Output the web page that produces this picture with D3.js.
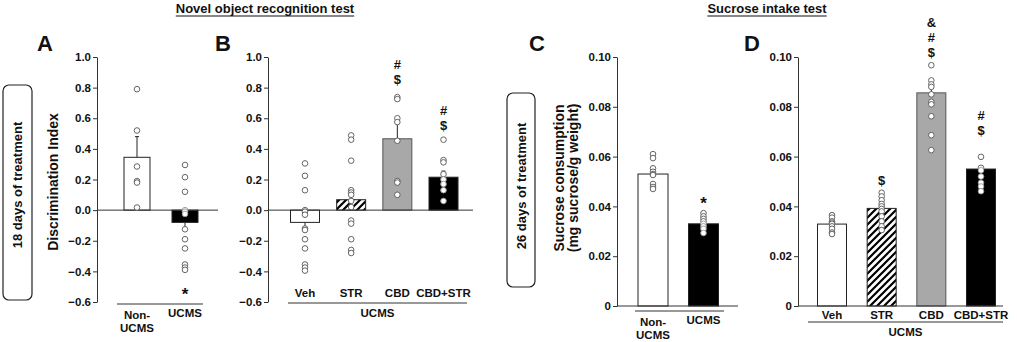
<!DOCTYPE html>
<html>
<head>
<meta charset="utf-8">
<script src="https://cdn.jsdelivr.net/npm/d3@7"></script>
<style>
  body { margin: 0; background: #fff; }
  text { font-family: "Liberation Sans", Arial, sans-serif; font-weight: bold; fill: #111; }
</style>
</head>
<body>
<div id="chart-area"></div>
<script>
let width = 1017,
height = 342;

// ---- data ----
// A: novel object recognition, 18 days
let groupsA = ['Non-UCMS', 'UCMS']
let meansA = [0.345, -0.08]
let semA = [0.135, 0.04]
let pointsA = [
  [0.79, 0.52, 0.285, 0.19, 0.18, 0.017],
  [0.295, 0.215, 0.12, 0.0, -0.01, -0.025, -0.125, -0.19, -0.25, -0.355, -0.375, -0.39]
]
let marksA = [[], ['*']]
let marksAy = [null, -0.52]

// B: novel object recognition, UCMS treatments
let groupsB = ['Veh', 'STR', 'CBD', 'CBD+STR']
let meansB = [-0.08, 0.068, 0.466, 0.215]
let semB = [0.055, 0.065, 0.105, 0.04]
let pointsB = [
  [0.305, 0.224, 0.13, 0.0, -0.01, -0.03, -0.12, -0.13, -0.19, -0.25, -0.355, -0.375, -0.395],
  [0.488, 0.46, 0.323, 0.13, 0.115, 0.1, 0.06, 0.02, -0.068, -0.088, -0.19, -0.26, -0.28],
  [0.738, 0.725, 0.6, 0.575, 0.453, 0.19, 0.18, 0.1],
  [0.46, 0.327, 0.312, 0.235, 0.2, 0.17, 0.13, 0.06]
]
let marksB = [[], [], ['$', '#'], ['$', '#']]
let marksBy = [null, null, 0.856, 0.556]

// C: sucrose intake, 26 days
let groupsC = ['Non-UCMS', 'UCMS']
let meansC = [0.053, 0.033]
let semC = [0.0015, 0.001]
let pointsC = [
  [0.061, 0.0594, 0.0553, 0.0539, 0.053, 0.0526, 0.049, 0.0478, 0.047],
  [0.0373, 0.036, 0.035, 0.034, 0.033, 0.032, 0.031, 0.0293]
]
let marksC = [[], ['*']]
let marksCy = [null, 0.043]

// D: sucrose intake, UCMS treatments
let groupsD = ['Veh', 'STR', 'CBD', 'CBD+STR']
let meansD = [0.0329, 0.0392, 0.0856, 0.055]
let semD = [0.0008, 0.0012, 0.003, 0.0012]
let pointsD = [
  [0.0365, 0.0355, 0.034, 0.0335, 0.033, 0.032, 0.031, 0.0295, 0.0289],
  [0.0455, 0.044, 0.0425, 0.041, 0.04, 0.039, 0.038, 0.036, 0.034, 0.032, 0.0305],
  [0.0967, 0.0906, 0.089, 0.088, 0.085, 0.082, 0.081, 0.0762, 0.0686, 0.0626],
  [0.0599, 0.0555, 0.0545, 0.052, 0.0495, 0.048, 0.0461]
]
let marksD = [[], ['$'], ['$', '#', '&'], ['$', '#']]
let marksDy = [null, 0.0506, 0.102, 0.0705]

let ticksAB = [-0.6, -0.4, -0.2, 0.0, 0.2, 0.4, 0.6, 0.8, 1.0]
let ticksCD = [0, 0.02, 0.04, 0.06, 0.08, 0.10]

let fills = {
  'Non-UCMS': '#fff', 'Veh': '#fff', 'UCMS': '#000',
  'STR': 'url(#hatch)', 'CBD': '#a8a8a8', 'CBD+STR': '#000'
}

let svg = d3.select('#chart-area').append('svg')
  .attr('width', width)
  .attr('height', height)

// diagonal hatch for STR
let pat = svg.append('defs').append('pattern')
  .attr('id', 'hatch')
  .attr('patternUnits', 'userSpaceOnUse')
  .attr('width', 7).attr('height', 7)
pat.append('rect').attr('width', 7).attr('height', 7).attr('fill', '#fff')
pat.append('path')
  .attr('d', 'M-1,1 l2,-2 M0,7 l7,-7 M6,8 l2,-2')
  .attr('stroke', '#000').attr('stroke-width', 2.2)

function drawPanel(o) {
  let g = svg.append('g')
  let y = d3.scaleLinear().domain(o.domain).range(o.yRange)
  let x = d3.scalePoint().domain(o.groups).range(o.xRange)
  let base = y(o.baseVal)

  // y axis
  let axis = d3.axisLeft(y).tickValues(o.ticks).tickSize(4).tickSizeOuter(0)
    .tickFormat(o.fmt)
  let ax = g.append('g').attr('transform', 'translate(' + o.axisX + ',0)').call(axis)
  ax.select('.domain').attr('stroke', '#333')
  ax.selectAll('.tick line').attr('stroke', '#333')
  ax.selectAll('.tick text').attr('font-size', 11.5).attr('fill', '#111')
    .attr('font-family', '"Liberation Sans", Arial, sans-serif').attr('x', -6)

  // bars
  g.selectAll('.bar').data(o.groups).enter().append('rect')
    .attr('x', d => x(d) - o.barW / 2)
    .attr('width', o.barW)
    .attr('y', (d, i) => Math.min(y(o.means[i]), base))
    .attr('height', (d, i) => Math.abs(y(o.means[i]) - base))
    .attr('fill', d => fills[d])
    .attr('stroke', d => d === 'CBD' ? '#555' : '#222')
    .attr('stroke-width', 1)

  // error bars (one sided, away from baseline)
  o.groups.forEach((d, i) => {
    let m = o.means[i]
    let e = m >= 0 ? m + o.sem[i] : m - o.sem[i]
    g.append('line')
      .attr('x1', x(d)).attr('x2', x(d))
      .attr('y1', y(m)).attr('y2', y(e))
      .attr('stroke', '#222')
    g.append('line')
      .attr('x1', x(d) - 2).attr('x2', x(d) + 2)
      .attr('y1', y(e)).attr('y2', y(e))
      .attr('stroke', '#222')
  })

  // baseline
  g.append('line')
    .attr('x1', o.axisX).attr('x2', o.baseEnd)
    .attr('y1', base).attr('y2', base)
    .attr('stroke', '#333')

  // individual points
  o.groups.forEach((d, i) => {
    let m = o.means[i]
    g.selectAll('.pt' + i).data(o.points[i]).enter().append('circle')
      .attr('cx', x(d))
      .attr('cy', v => y(v))
      .attr('r', 2.8)
      .attr('fill', '#fff')
      .attr('stroke', v => {
        let inside = fills[d] === '#000' && (m >= 0 ? v >= 0 && v <= m : v <= 0 && v >= m)
        return inside ? '#999' : '#555'
      })
      .attr('stroke-width', 0.9)
  })

  // significance marks
  o.groups.forEach((d, i) => {
    o.marks[i].forEach((s, k) => {
      g.append('text')
        .attr('x', x(d))
        .attr('y', y(o.marksY[i]) - k * 15 + (s === '*' ? 10 : 5))
        .attr('text-anchor', 'middle')
        .attr('font-size', s === '*' ? 17 : 13)
        .text(s)
    })
  })

  // x labels
  o.groups.forEach((d, i) => {
    let lbl = o.labels[i]
    lbl.forEach((t, k) => {
      g.append('text')
        .attr('x', x(d))
        .attr('y', o.labelY[i] + k * 13)
        .attr('text-anchor', 'middle')
        .attr('font-size', 11.5)
        .text(t)
    })
  })
  g.append('line')
    .attr('x1', o.lineX[0]).attr('x2', o.lineX[1])
    .attr('y1', o.lineY).attr('y2', o.lineY)
    .attr('stroke', '#333')
  if (o.under) {
    g.append('text')
      .attr('x', (o.lineX[0] + o.lineX[1]) / 2)
      .attr('y', o.lineY + 14)
      .attr('text-anchor', 'middle')
      .attr('font-size', 11.5)
      .text(o.under)
  }

  // panel letter
  g.append('text')
    .attr('x', o.letterX).attr('y', 51)
    .attr('text-anchor', 'middle')
    .attr('font-size', 22)
    .text(o.letter)
}

let fmtAB = d3.format('.1f')
let fmtCD = d => d === 0 ? '0' : d3.format('.2f')(d)

drawPanel({
  letter: 'A', letterX: 45, groups: groupsA, means: meansA, sem: semA, points: pointsA,
  marks: marksA, marksY: marksAy,
  domain: [-0.6, 1.0], yRange: [302, 57], baseVal: 0, ticks: ticksAB, fmt: fmtAB,
  xRange: [137, 185], barW: 26, axisX: 97, baseEnd: 218,
  labels: [['Non-', 'UCMS'], ['UCMS']], labelY: [319, 317],
  lineX: [117, 203], lineY: 304
})
drawPanel({
  letter: 'B', letterX: 223, groups: groupsB, means: meansB, sem: semB, points: pointsB,
  marks: marksB, marksY: marksBy,
  domain: [-0.6, 1.0], yRange: [302, 57], baseVal: 0, ticks: ticksAB, fmt: fmtAB,
  xRange: [305, 443.5], barW: 29, axisX: 268, baseEnd: 473,
  labels: [['Veh'], ['STR'], ['CBD'], ['CBD+STR']], labelY: [297, 297, 297, 297],
  lineX: [288, 467], lineY: 303, under: 'UCMS'
})
drawPanel({
  letter: 'C', letterX: 537, groups: groupsC, means: meansC, sem: semC, points: pointsC,
  marks: marksC, marksY: marksCy,
  domain: [0, 0.10], yRange: [306, 57], baseVal: 0, ticks: ticksCD, fmt: fmtCD,
  xRange: [653, 703.5], barW: 30, axisX: 617, baseEnd: 738,
  labels: [['Non-', 'UCMS'], ['UCMS']], labelY: [326, 324],
  lineX: [635, 724], lineY: 311
})
drawPanel({
  letter: 'D', letterX: 752, groups: groupsD, means: meansD, sem: semD, points: pointsD,
  marks: marksD, marksY: marksDy,
  domain: [0, 0.10], yRange: [306, 57], baseVal: 0, ticks: ticksCD, fmt: fmtCD,
  xRange: [832, 981], barW: 29, axisX: 798, baseEnd: 1003,
  labels: [['Veh'], ['STR'], ['CBD'], ['CBD+STR']], labelY: [319, 319, 319, 319],
  lineX: [808, 1003], lineY: 322, under: 'UCMS'
})

// section titles, underlined
function title(txt, cx) {
  let t = svg.append('text')
    .attr('x', cx).attr('y', 13)
    .attr('text-anchor', 'middle')
    .attr('font-size', 13)
    .text(txt)
  let w = t.node().getComputedTextLength()
  svg.append('line')
    .attr('x1', cx - w / 2).attr('x2', cx + w / 2)
    .attr('y1', 16).attr('y2', 16)
    .attr('stroke', '#111').attr('stroke-width', 1.2)
}
title('Novel object recognition test', 265)
title('Sucrose intake test', 767)

// rotated side labels
function vtext(txt, x, y, size) {
  svg.append('text')
    .attr('transform', 'translate(' + x + ',' + y + ') rotate(-90)')
    .attr('text-anchor', 'middle')
    .attr('dominant-baseline', 'central')
    .attr('font-size', size)
    .text(txt)
}
function boxLabel(txt, x0, y0, x1, y1, ty) {
  svg.append('rect')
    .attr('x', x0).attr('y', y0)
    .attr('width', x1 - x0).attr('height', y1 - y0)
    .attr('rx', 6).attr('ry', 6)
    .attr('fill', 'none').attr('stroke', '#222').attr('stroke-width', 1.2)
  vtext(txt, (x0 + x1) / 2, ty, 13)
}
boxLabel('18 days of treatment', 3, 85, 32, 300, 185)
boxLabel('26 days of treatment', 507, 93, 535, 287, 186)

vtext('Discrimination Index', 53, 182, 14)
vtext('Sucrose consumption', 559, 178, 14)
vtext('(mg sucrose/g weight)', 573, 178, 14)
</script>
</body>
</html>
